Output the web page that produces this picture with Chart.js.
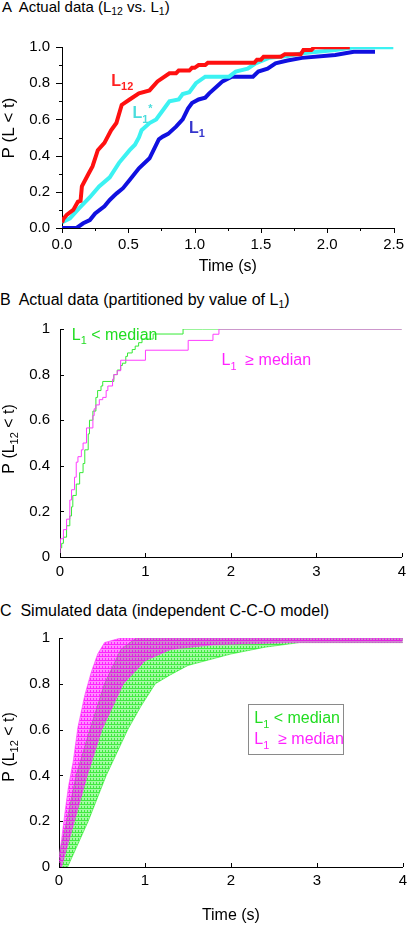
<!DOCTYPE html>
<html><head><meta charset="utf-8">
<script src="https://cdn.jsdelivr.net/npm/chart.js@4.4.1/dist/chart.umd.min.js"></script>
<style>
body{margin:0;background:#fff;}
#wrap{position:relative;width:412px;height:925px;overflow:hidden;font-family:"Liberation Sans",Arial,sans-serif;}
.ttl{position:absolute;font-size:15px;line-height:16px;white-space:pre;color:#000;}
.ttl.big{font-size:16px;line-height:17px;}
.ttl sub{font-size:10.5px;vertical-align:-3px;line-height:0;}
canvas{position:absolute;left:0;}
</style></head><body>
<div id="wrap">
<div class="ttl" style="top:-1px;left:2px">A  Actual data (L<sub>12</sub> vs. L<sub>1</sub>)</div>
<div class="ttl big" style="top:291px;left:0">B  Actual data (partitioned by value of L<sub>1</sub>)</div>
<div class="ttl big" style="top:602px;left:0">C  Simulated data (independent C-C-O model)</div>
<canvas id="cA" width="412" height="280" style="top:0;width:412px;height:280px"></canvas>
<canvas id="cB" width="412" height="280" style="top:310px;width:412px;height:280px"></canvas>
<canvas id="cC" width="412" height="305" style="top:620px;width:412px;height:305px"></canvas>
</div>
<script>
// ---------- Panel A: actual data ----------
const timeL12 = [0, 0.01, 0.035, 0.085, 0.12, 0.14, 0.15, 0.2, 0.23, 0.27, 0.32, 0.37, 0.41, 0.45, 0.51, 0.58, 0.66, 0.72, 0.81, 0.86, 0.88, 0.96, 0.98, 1.0, 1.03, 1.08, 1.1, 1.45, 1.47, 1.5, 1.52, 1.65, 1.68, 1.8, 1.82, 1.88, 1.9, 2.17];
const probL12 = [0.03, 0.05, 0.072, 0.10, 0.145, 0.15, 0.23, 0.30, 0.34, 0.43, 0.47, 0.54, 0.58, 0.68, 0.71, 0.744, 0.76, 0.81, 0.855, 0.855, 0.87, 0.87, 0.885, 0.885, 0.90, 0.90, 0.913, 0.913, 0.93, 0.93, 0.946, 0.946, 0.96, 0.96, 0.983, 0.983, 0.998, 0.998];
const timeL1star = [0, 0.01, 0.06, 0.13, 0.21, 0.28, 0.36, 0.43, 0.51, 0.55, 0.58, 0.6, 0.66, 0.71, 0.78, 0.81, 0.88, 0.91, 0.96, 1.01, 1.08, 1.26, 1.31, 1.4, 1.46, 1.56, 1.7, 1.81, 2.06, 2.2, 2.5];
const probL1star = [0.03, 0.035, 0.053, 0.11, 0.17, 0.23, 0.28, 0.36, 0.43, 0.46, 0.50, 0.54, 0.58, 0.60, 0.67, 0.70, 0.71, 0.74, 0.75, 0.80, 0.836, 0.836, 0.864, 0.88, 0.91, 0.94, 0.95, 0.965, 0.983, 0.998, 0.998];
const timeL1 = [0, 0.11, 0.16, 0.21, 0.25, 0.32, 0.36, 0.41, 0.46, 0.51, 0.58, 0.66, 0.73, 0.76, 0.8, 0.86, 0.91, 0.95, 0.98, 1.03, 1.08, 1.11, 1.18, 1.21, 1.28, 1.44, 1.48, 1.55, 1.61, 1.7, 1.81, 2.06, 2.2, 2.36];
const probL1 = [0, 0, 0.026, 0.044, 0.08, 0.12, 0.155, 0.19, 0.22, 0.265, 0.33, 0.385, 0.49, 0.505, 0.52, 0.56, 0.6, 0.66, 0.69, 0.71, 0.72, 0.744, 0.79, 0.81, 0.836, 0.836, 0.864, 0.88, 0.91, 0.925, 0.94, 0.956, 0.974, 0.974];

// ---------- Panel B: partitioned by L1 ----------
const timeLow = [0, 0.02, 0.04, 0.077, 0.115, 0.135, 0.15, 0.19, 0.23, 0.27, 0.29, 0.33, 0.345, 0.385, 0.42, 0.44, 0.48, 0.5, 0.63, 0.67, 0.71, 0.73, 0.77, 0.79, 0.845, 0.88, 0.92, 0.96, 1.09, 1.44, 1.67, 4];
const probLow = [0, 0.04, 0.06, 0.087, 0.137, 0.18, 0.22, 0.27, 0.32, 0.37, 0.41, 0.47, 0.54, 0.60, 0.64, 0.70, 0.73, 0.75, 0.77, 0.80, 0.82, 0.84, 0.85, 0.88, 0.895, 0.91, 0.925, 0.94, 0.956, 0.978, 1.0, 1.0];
const timeHigh = [0, 0.005, 0.04, 0.077, 0.115, 0.135, 0.17, 0.19, 0.21, 0.25, 0.27, 0.31, 0.385, 0.40, 0.42, 0.46, 0.5, 0.54, 0.56, 0.615, 0.63, 0.67, 0.71, 1.0, 1.5, 1.79, 1.86, 2.0, 4];
const probHigh = [0, 0.037, 0.08, 0.12, 0.166, 0.25, 0.295, 0.35, 0.416, 0.44, 0.47, 0.50, 0.566, 0.62, 0.65, 0.667, 0.69, 0.70, 0.73, 0.75, 0.78, 0.80, 0.817, 0.863, 0.907, 0.95, 0.977, 1.0, 1.0];

// ---------- Panel C: simulated envelopes ----------
const simHighLeftT  = [0, 0.03, 0.07, 0.11, 0.165, 0.22, 0.30, 0.375, 0.45, 0.53, 0.72, 4];
const simHighLeftP  = [0.04, 0.12, 0.24, 0.35, 0.46, 0.61, 0.75, 0.85, 0.93, 0.98, 1.0, 1.0];
const simHighRightT = [0, 0.03, 0.18, 0.33, 0.5, 0.75, 1.0, 1.3, 1.8, 2.7, 4];
const simHighRightP = [0, 0, 0.2, 0.4, 0.6, 0.8, 0.9, 0.95, 0.97, 0.98, 0.98];
const simLowLeftT   = [0, 0.09, 0.2, 0.36, 0.53, 0.72, 0.9, 4];
const simLowLeftP   = [0.05, 0.2, 0.4, 0.6, 0.8, 0.95, 1.0, 1.0];
const simLowRightT  = [0, 0.1, 0.34, 0.55, 0.8, 0.95, 1.12, 1.3, 1.5, 2.0, 2.4, 2.8, 4];
const simLowRightP  = [0, 0, 0.2, 0.4, 0.6, 0.7, 0.8, 0.84, 0.88, 0.93, 0.96, 0.98, 0.98];

const FONT = '"Liberation Sans", Arial, sans-serif';
Chart.defaults.font.family = FONT;
Chart.defaults.color = '#000';

const pts = (t, p) => t.map((v, i) => ({x: v, y: p[i]}));

function drawRich(ctx, x, y, segs, size, color, bold, align) {
  const w = bold ? 'bold ' : '';
  let total = 0;
  const parts = segs.map(([txt, mode]) => {
    const s = mode ? size * 0.68 : size;
    ctx.font = w + s + 'px ' + FONT;
    const width = ctx.measureText(txt).width;
    total += width;
    return {txt, mode, s, width};
  });
  let cx = align === 'center' ? x - total / 2 : x;
  ctx.fillStyle = color;
  ctx.textAlign = 'left';
  ctx.textBaseline = 'alphabetic';
  parts.forEach(p => {
    ctx.font = w + p.s + 'px ' + FONT;
    const dy = p.mode === 1 ? size * 0.28 : (p.mode === 2 ? -size * 0.42 : 0);
    ctx.fillText(p.txt, cx, y + dy);
    cx += p.width;
  });
}

const tickPlugin = {
  id: 'ticks2',
  afterDraw(chart, args, o) {
    const ctx = chart.ctx, ca = chart.chartArea;
    const xs = chart.scales.x, ys = chart.scales.y;
    ctx.save();
    ctx.strokeStyle = '#000';
    ctx.lineWidth = 1;
    xs.ticks.forEach(t => {
      const px = Math.round(xs.getPixelForValue(t.value)) + 0.5;
      const len = t.label !== '' ? o.xMaj : o.xMin;
      ctx.beginPath(); ctx.moveTo(px, ca.bottom); ctx.lineTo(px, ca.bottom + o.dir * len); ctx.stroke();
    });
    ys.ticks.forEach(t => {
      const py = Math.round(ys.getPixelForValue(t.value)) + 0.5;
      const len = t.label !== '' ? o.yMaj : o.yMin;
      ctx.beginPath(); ctx.moveTo(ca.left, py); ctx.lineTo(ca.left - o.dir * len, py); ctx.stroke();
    });
    ctx.restore();
  }
};

const textPlugin = {
  id: 'text2',
  afterDraw(chart, args, o) {
    const ctx = chart.ctx, xs = chart.scales.x, ys = chart.scales.y;
    ctx.save();
    if (o.box) {
      const b = o.box;
      const x1 = xs.getPixelForValue(b.x0), x2 = xs.getPixelForValue(b.x1);
      const y1 = ys.getPixelForValue(b.y0), y2 = ys.getPixelForValue(b.y1);
      ctx.fillStyle = '#fff';
      ctx.fillRect(x1, y1, x2 - x1, y2 - y1);
      ctx.strokeStyle = '#8a8a8a'; ctx.lineWidth = 1;
      ctx.strokeRect(Math.round(x1) + 0.5, Math.round(y1) + 0.5, Math.round(x2 - x1), Math.round(y2 - y1));
    }
    (o.items || []).forEach(it => {
      drawRich(ctx, xs.getPixelForValue(it.x), ys.getPixelForValue(it.y), it.segs, it.size, it.color, it.bold, 'left');
    });
    if (o.ytitle) {
      const t = o.ytitle;
      ctx.translate(t.cx, t.cy);
      ctx.rotate(-Math.PI / 2);
      drawRich(ctx, 0, t.size * 0.36, t.segs, t.size, '#000', false, 'center');
    }
    ctx.restore();
  }
};

function axis(min, max, step, fitKey, fitVal, pad, cb, title) {
  const s = {
    type: 'linear', min, max,
    grid: {display: false, drawTicks: false, drawOnChartArea: false},
    border: {display: true, color: '#000', width: 1},
    ticks: {stepSize: step, autoSkip: false, maxRotation: 0, padding: pad, color: '#000', font: {family: FONT, size: 15}, callback: cb},
    afterFit(sc) { sc[fitKey] = fitVal; }
  };
  if (title) s.title = title;
  return s;
}

const common = {responsive: false, animation: false, events: [], maintainAspectRatio: false};

// Panel A
new Chart(document.getElementById('cA'), {
  type: 'line',
  data: {datasets: [
    {data: pts(timeL12, probL12), borderColor: '#ff1010', borderWidth: 4, pointRadius: 0, tension: 0, fill: false},
    {data: pts(timeL1star, probL1star), borderColor: '#3cf2f2', borderWidth: 4, pointRadius: 0, tension: 0, fill: false},
    {data: pts(timeL1, probL1), borderColor: '#1010e0', borderWidth: 4, pointRadius: 0, tension: 0, fill: false}
  ]},
  options: Object.assign({}, common, {
    layout: {padding: {top: 47, right: 16, left: 0, bottom: 0}},
    plugins: {
      legend: {display: false}, tooltip: {enabled: false},
      ticks2: {dir: 1, xMaj: 5, xMin: 3, yMaj: 6, yMin: 3},
      text2: {
        items: [
          {x: 0.372, y: 0.785, segs: [['L', 0], ['12', 1]], size: 16, color: '#ff2020', bold: true},
          {x: 0.531, y: 0.606, segs: [['L', 0], ['1', 1], ['*', 2]], size: 16, color: '#4adcdc', bold: true},
          {x: 0.958, y: 0.527, segs: [['L', 0], ['1', 1]], size: 16, color: '#3535cc', bold: true}
        ],
        ytitle: {cx: 8, cy: 128, size: 17, segs: [['P (L < t)', 0]]}
      }
    },
    scales: {
      x: axis(0, 2.5, 0.25, 'height', 52, 8,
        v => Math.abs(v / 0.5 - Math.round(v / 0.5)) < 1e-6 ? v.toFixed(1) : '',
        {display: true, text: 'Time (s)', color: '#000', font: {family: FONT, size: 16}, padding: {top: 0, bottom: 4}}),
      y: axis(0, 1, 0.1, 'width', 62, 12,
        v => Math.round(v * 10) % 2 === 0 ? v.toFixed(1) : '')
    }
  }),
  plugins: [tickPlugin, textPlugin]
});

// Panel B
new Chart(document.getElementById('cB'), {
  type: 'line',
  data: {datasets: [
    {data: pts(timeHigh, probHigh), borderColor: '#ff3cff', borderWidth: 1, pointRadius: 0, stepped: 'after', fill: false},
    {data: pts(timeLow, probLow), borderColor: '#35ea35', borderWidth: 1, pointRadius: 0, stepped: 'after', fill: false}
  ]},
  options: Object.assign({}, common, {
    layout: {padding: {top: 14, right: 5, left: 0, bottom: 0}},
    plugins: {
      legend: {display: false}, tooltip: {enabled: false},
      ticks2: {dir: -1, xMaj: 4, xMin: 4, yMaj: 4, yMin: 4},
      text2: {
        items: [
          {x: 0.138, y: 0.953, segs: [['L', 0], ['1', 1], [' < median', 0]], size: 16, color: '#22dd22', bold: false},
          {x: 1.89, y: 0.841, segs: [['L', 0], ['1', 1], ['  \u2265 median', 0]], size: 16, color: '#ff22ff', bold: false}
        ],
        ytitle: {cx: 8, cy: 129, size: 16, segs: [['P (L', 0], ['12', 1], [' < t)', 0]]}
      }
    },
    scales: {
      x: axis(0, 4, 1, 'height', 33, 6, v => String(v)),
      y: axis(0, 1, 0.2, 'width', 60, 10, v => String(Math.round(v * 10) / 10))
    }
  }),
  plugins: [tickPlugin, textPlugin]
});

// Panel C
function mesh(r, g, b, a1, a2) {
  const c = document.createElement('canvas');
  c.width = 3; c.height = 4;
  const x = c.getContext('2d');
  x.fillStyle = `rgba(${r},${g},${b},${a1})`;
  x.fillRect(0, 0, 3, 4);
  x.fillStyle = `rgba(${r},${g},${b},${a2})`;
  x.fillRect(0, 0, 3, 1);
  x.fillRect(0, 2, 1, 2);
  return x.createPattern(c, 'repeat');
}
const ctxC = document.getElementById('cC').getContext('2d');
new Chart(ctxC, {
  type: 'line',
  data: {datasets: [
    {data: pts(simHighLeftT, simHighLeftP), borderColor: 'rgba(255,60,255,0.8)', borderWidth: 0.8, pointRadius: 0, tension: 0, fill: '+1', backgroundColor: mesh(255, 0, 255, 0.45, 0.75)},
    {data: pts(simHighRightT, simHighRightP), borderColor: 'rgba(255,60,255,0.6)', borderWidth: 0.8, pointRadius: 0, tension: 0, fill: false},
    {data: pts(simLowLeftT, simLowLeftP), borderColor: 'rgba(40,230,40,0.8)', borderWidth: 0.8, pointRadius: 0, tension: 0, fill: '+1', backgroundColor: mesh(30, 235, 30, 0.4, 0.75)},
    {data: pts(simLowRightT, simLowRightP), borderColor: 'rgba(40,230,40,0.7)', borderWidth: 0.8, pointRadius: 0, tension: 0, fill: false}
  ]},
  options: Object.assign({}, common, {
    layout: {padding: {top: 13, right: 5, left: 0, bottom: 0}},
    plugins: {
      legend: {display: false}, tooltip: {enabled: false},
      ticks2: {dir: -1, xMaj: 4, xMin: 4, yMaj: 4, yMin: 4},
      text2: {
        box: {x0: 2.203, x1: 3.314, y0: 0.711, y1: 0.491},
        items: [
          {x: 2.272, y: 0.628, segs: [['L', 0], ['1', 1], [' < median', 0]], size: 16, color: '#22dd22', bold: false},
          {x: 2.272, y: 0.535, segs: [['L', 0], ['1', 1], ['  \u2265 median', 0]], size: 16, color: '#ff22ff', bold: false}
        ],
        ytitle: {cx: 8, cy: 127, size: 16, segs: [['P (L', 0], ['12', 1], [' < t)', 0]]}
      }
    },
    scales: {
      x: axis(0, 4, 1, 'height', 58, 5, v => String(v),
        {display: true, text: 'Time (s)', color: '#000', font: {family: FONT, size: 16}, padding: {top: 0, bottom: 0}}),
      y: axis(0, 1, 0.2, 'width', 59, 9, v => String(Math.round(v * 10) / 10))
    }
  }),
  plugins: [tickPlugin, textPlugin]
});
</script>
</body></html>
